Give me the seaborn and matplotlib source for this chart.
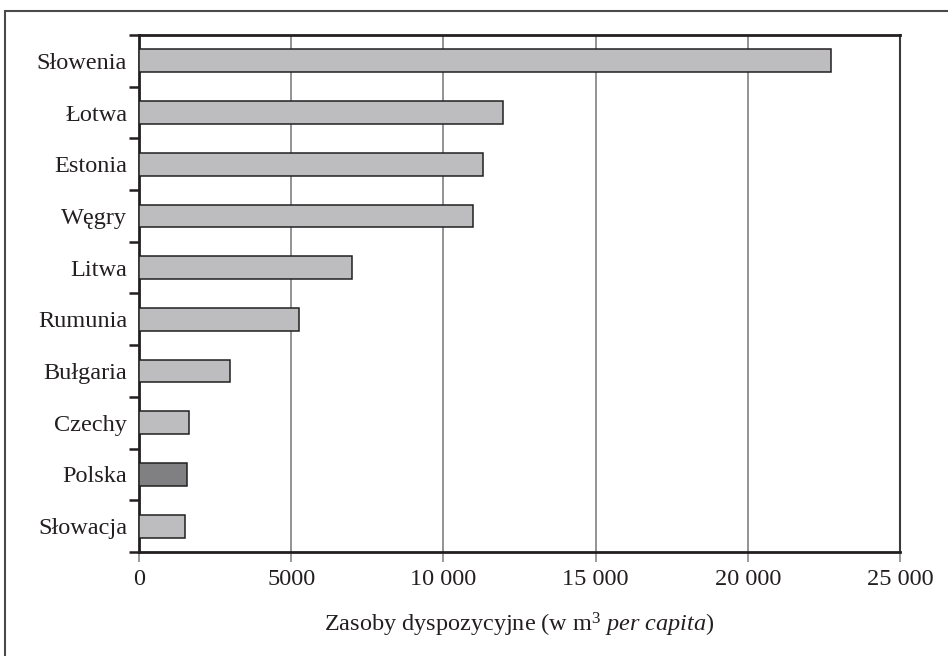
import matplotlib
matplotlib.use("Agg")
import matplotlib.pyplot as plt
import seaborn as sns
import pandas as pd
from matplotlib.patches import Rectangle
from matplotlib.ticker import FixedLocator

countries = ["Słowenia", "Łotwa", "Estonia", "Węgry", "Litwa", "Rumunia",
             "Bułgaria", "Czechy", "Polska", "Słowacja"]
values = [22730, 11950, 11310, 10960, 7010, 5250, 3000, 1630, 1570, 1510]
bar_colors = ["#bcbdc0"] * 8 + ["#7f8084"] + ["#bcbdc0"]
x_ticks = [0, 5000, 10000, 15000, 20000, 25000]
x_tick_labels = ["0", "5000", "10 000", "15 000", "20 000", "25 000"]

sns.set_theme(style="white")
plt.rcParams["font.family"] = ["Liberation Serif", "DejaVu Serif"]
plt.rcParams["mathtext.fontset"] = "custom"
plt.rcParams["mathtext.rm"] = "Liberation Serif"
plt.rcParams["mathtext.it"] = "Liberation Serif:italic"

ink = "#231f20"
fs = 17.5
df = pd.DataFrame({"country": countries, "value": values})

fig = plt.figure(figsize=(9.48, 6.56), dpi=100)
ax = fig.add_axes([139/948, 1-552/656, (900-139)/948, (552-35)/656])

sns.barplot(data=df, x="value", y="country", hue="country", palette=bar_colors,
            legend=False, width=0.44, edgecolor=ink, linewidth=1.1, ax=ax,
            zorder=3)

ax.set_xlim(0, 25000)
ax.set_ylim(len(countries) - 0.5, -0.5)
ax.set_xticks(x_ticks)
ax.set_xticklabels(x_tick_labels, fontsize=fs, color=ink)
for lbl in ax.get_yticklabels():
    lbl.set_fontsize(fs)
    lbl.set_color(ink)
ax.tick_params(axis="y", which="major", length=0, pad=8.5)
ax.yaxis.set_minor_locator(FixedLocator([i - 0.5 for i in range(len(countries) + 1)]))
ax.tick_params(axis="y", which="minor", length=7, width=1.8, color=ink, direction="out", left=True)
ax.tick_params(axis="x", which="major", length=7, width=1.2, color="#8a8a8c", direction="out",
               bottom=True, pad=5)

for v in x_ticks[1:-1]:
    ax.axvline(v, color="#8a8a8c", lw=1.3, zorder=1)

for side in ["left", "bottom", "top"]:
    ax.spines[side].set_visible(True)
    ax.spines[side].set_color(ink)
    ax.spines[side].set_linewidth(2.0)
ax.spines["right"].set_visible(True)
ax.spines["right"].set_color("#3a3a3c")
ax.spines["right"].set_linewidth(1.5)

ax.set_ylabel("")
ax.set_xlabel(r"Zasoby dyspozycyjne (w m$^{\mathregular{3}}$ $\it{per\ capita}$)", fontsize=fs,
              color=ink, labelpad=15)

fig.patches.append(Rectangle((5/948, -0.2), 1.2, 1.2 - 11/656, transform=fig.transFigure,
                             fill=False, edgecolor="#4a4a4c", lw=1.5))

fig.savefig("out.png", dpi=100)
